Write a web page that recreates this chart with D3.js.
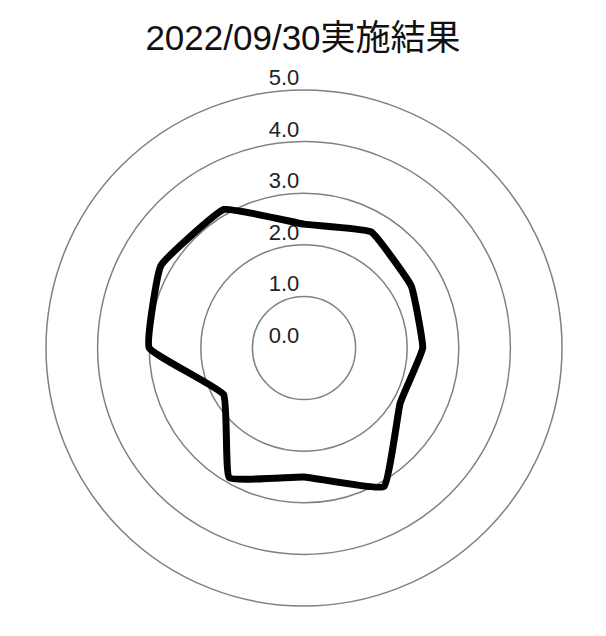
<!DOCTYPE html>
<html>
<head>
<meta charset="utf-8">
<script src="https://cdn.jsdelivr.net/npm/d3@7"></script>
<style>
  body { margin: 0; background: #fff; }
</style>
</head>
<body>
<svg id="chart"></svg>
<script>
// data: 12 axes, clockwise from the top
const axes = ["1", "2", "3", "4", "5", "6", "7", "8", "9", "10", "11", "12"];
const scores = [2.4, 2.6, 2.4, 2.3, 2.15, 3.1, 2.5, 2.9, 1.8, 3.0, 3.2, 3.1];
const ticks = [0, 1, 2, 3, 4, 5];
const title = "2022/09/30実施結果";

const w = 606;
const h = 636;
const cx = 304;
const cy = 348;
const R = 258;

const svg = d3.select("#chart")
    .attr("width", w)
    .attr("height", h);

// radial scale
const r = d3.scaleLinear()
    .domain([0, 5])
    .range([0, R]);

const angle = d3.scalePoint()
    .domain(axes)
    .range([0, 2 * Math.PI * (axes.length - 1) / axes.length]);

// title
svg.append("text")
    .attr("x", w / 2)
    .attr("y", 50)
    .attr("text-anchor", "middle")
    .style("font-family", "'Liberation Sans', Arial, 'Noto Sans CJK JP', sans-serif")
    .style("font-size", "35px")
    .style("fill", "#111")
    .text(title);

const g = svg.append("g")
    .attr("transform", `translate(${cx}, ${cy})`);

// grid rings
g.selectAll(".ring")
    .data(ticks.filter(d => d > 0))
    .join("circle")
    .attr("class", "ring")
    .attr("r", d => r(d))
    .attr("fill", "none")
    .attr("stroke", "#808080")
    .attr("stroke-width", 1.5);

// tick labels
g.selectAll(".tick")
    .data(ticks)
    .join("text")
    .attr("class", "tick")
    .attr("x", -20)
    .attr("y", d => -r(d) - 5)
    .attr("text-anchor", "middle")
    .style("font-family", "'Liberation Sans', Arial, sans-serif")
    .style("font-size", "22px")
    .style("fill", "#222")
    .text(d => d3.format(".1f")(d));

// the score line
const line = d3.lineRadial()
    .angle((d, i) => angle(axes[i]))
    .radius(d => r(d))
    .curve(d3.curveCardinalClosed.tension(0.7));

g.append("path")
    .datum(scores)
    .attr("d", line)
    .attr("fill", "none")
    .attr("stroke", "#000")
    .attr("stroke-width", 7)
    .attr("stroke-linejoin", "miter");
</script>
</body>
</html>
